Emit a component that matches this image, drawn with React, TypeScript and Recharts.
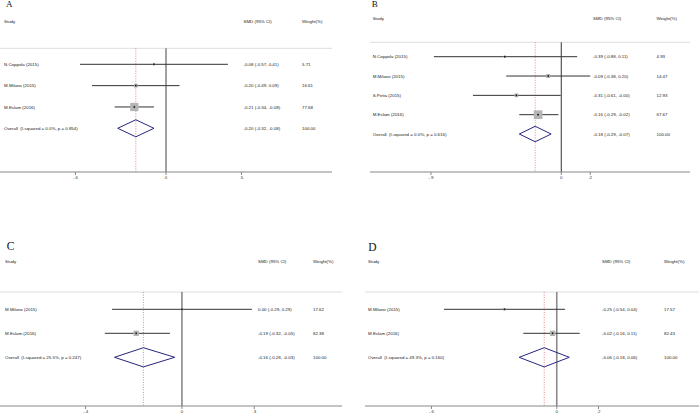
import React from 'react';
import { ScatterChart, Scatter, XAxis, YAxis, ReferenceLine, ErrorBar } from 'recharts';

// ---------- Panel A ----------
const A_STUDIES = ['N.Coppola (2015)', 'M.Milano (2015)', 'M.Eslam (2016)'];
const A_SMD = [-0.08, -0.2, -0.21];
const A_LO = [-0.57, -0.49, -0.34];
const A_HI = [0.41, 0.09, -0.08];
const A_WEIGHT = [5.71, 16.61, 77.68];
const A_OVERALL = [-0.2, -0.32, -0.08];
const A_HET = 'I-squared = 0.0%, p = 0.854';
const A_TICKS = [-0.6, 0, 0.5];
const A_TICK_LABELS = ['-.6', '0', '.5'];

// ---------- Panel B ----------
const B_STUDIES = ['N.Coppola (2015)', 'M.Milano (2015)', 'S.Petta (2015)', 'M.Eslam (2016)'];
const B_SMD = [-0.39, -0.09, -0.31, -0.16];
const B_LO = [-0.88, -0.38, -0.61, -0.29];
const B_HI = [0.11, 0.2, -0.004, -0.02];
const B_WEIGHT = [4.93, 14.47, 12.93, 67.67];
const B_OVERALL = [-0.18, -0.29, -0.07];
const B_HET = 'I-squared = 0.0%, p = 0.616';
const B_TICKS = [-0.9, 0, 0.2];
const B_TICK_LABELS = ['-.9', '0', '.2'];

// ---------- Panel C ----------
const C_STUDIES = ['M.Milano (2015)', 'M.Eslam (2016)'];
const C_SMD = [0.0, -0.19];
const C_LO = [-0.29, -0.32];
const C_HI = [0.29, -0.05];
const C_WEIGHT = [17.62, 82.38];
const C_OVERALL = [-0.16, -0.28, -0.03];
const C_HET = 'I-squared = 25.5%, p = 0.247';
const C_TICKS = [-0.4, 0, 0.3];
const C_TICK_LABELS = ['-.4', '0', '.3'];

// ---------- Panel D ----------
const D_STUDIES = ['M.Milano (2015)', 'M.Eslam (2016)'];
const D_SMD = [-0.25, -0.02];
const D_LO = [-0.54, -0.16];
const D_HI = [0.04, 0.11];
const D_WEIGHT = [17.57, 82.43];
const D_OVERALL = [-0.06, -0.18, 0.06];
const D_HET = 'I-squared = 49.3%, p = 0.160';
const D_TICKS = [-0.6, 0, 0.2];
const D_TICK_LABELS = ['-.6', '0', '.2'];

const SANS = '"Liberation Sans", Arial, sans-serif';
const SERIF = '"Liberation Serif", "Times New Roman", serif';
const FS = 4.4;

const f2 = (v: number) => v.toFixed(2);

type PanelData = {
  studies: string[]; smd: number[]; lo: number[]; hi: number[]; weight: number[];
  overall: number[]; het: string; ticks: number[]; tickLabels: string[];
};

type Layout = {
  letter: string; left: number; top: number;
  margin: { top: number; right: number; bottom: number; left: number };
  xDomain: [number, number]; yDomain: [number, number]; topRow: number;
  cols: number[]; box: number; zeroStroke: string; zeroWidth: number;
  letterX: number; letterY: number; letterSize: number;
};

const DATA: PanelData[] = [
  { studies: A_STUDIES, smd: A_SMD, lo: A_LO, hi: A_HI, weight: A_WEIGHT, overall: A_OVERALL, het: A_HET, ticks: A_TICKS, tickLabels: A_TICK_LABELS },
  { studies: B_STUDIES, smd: B_SMD, lo: B_LO, hi: B_HI, weight: B_WEIGHT, overall: B_OVERALL, het: B_HET, ticks: B_TICKS, tickLabels: B_TICK_LABELS },
  { studies: C_STUDIES, smd: C_SMD, lo: C_LO, hi: C_HI, weight: C_WEIGHT, overall: C_OVERALL, het: C_HET, ticks: C_TICKS, tickLabels: C_TICK_LABELS },
  { studies: D_STUDIES, smd: D_SMD, lo: D_LO, hi: D_HI, weight: D_WEIGHT, overall: D_OVERALL, het: D_HET, ticks: D_TICKS, tickLabels: D_TICK_LABELS },
];

const LAYOUTS: Layout[] = [
  { letter: 'A', left: 0, top: 0, margin: { top: 10, right: 18, bottom: 26, left: 0 }, xDomain: [-1.1, 1.1], yDomain: [-1.546, 6.049], topRow: 0.25, cols: [4, 243.5, 302], box: 0.94, zeroStroke: '#8a8a8a', zeroWidth: 1.6, letterX: 6, letterY: 8.5, letterSize: 9 },
  { letter: 'B', left: 350, top: 0, margin: { top: 8, right: 10, bottom: 26, left: 20 }, xDomain: [-1.321, 0.889], yDomain: [-1.519, 6.965], topRow: 0.255, cols: [22.7, 243, 306.5], box: 1.05, zeroStroke: '#333', zeroWidth: 1, letterX: 21.7, letterY: 8, letterSize: 9 },
  { letter: 'C', left: 0, top: 210, margin: { top: 40, right: 8, bottom: 2, left: 0 }, xDomain: [-0.755, 0.664], yDomain: [-1.471, 5.029], topRow: 0.279, cols: [5, 258, 313], box: 0.59, zeroStroke: '#444', zeroWidth: 1, letterX: 6.7, letterY: 41.7, letterSize: 11.5 },
  { letter: 'D', left: 350, top: 210, margin: { top: 40, right: 1, bottom: 2, left: 15 }, xDomain: [-0.918, 0.681], yDomain: [-1.471, 5.029], topRow: 0.279, cols: [18, 252, 314], box: 0.59, zeroStroke: '#8a8a8a', zeroWidth: 1.6, letterX: 18.3, letterY: 42, letterSize: 11.5 },
];

const DIAMOND_HALF = 0.4; // half height of the pooled diamond, in row units

const SquareShape = (props: any) => {
  const { cx, cy, payload } = props;
  const s = payload.box;
  return (
    <g>
      <rect x={cx - s / 2} y={cy - s / 2} width={s} height={s} fill="#b4b4b4" />
      <rect x={cx - 0.8} y={cy - 0.8} width={1.6} height={1.6} fill="#111" />
    </g>
  );
};

const makeTextShape = (cols: number[]) => (props: any) => {
  const { cy, payload } = props;
  const common = { y: cy, dy: '0.35em', fontSize: FS, fill: '#222', fontFamily: SANS, style: { whiteSpace: 'pre' as const } };
  return (
    <g>
      <text x={cols[0]} {...common}>{payload.name}</text>
      <text x={cols[1]} {...common}>{payload.smdText}</text>
      <text x={cols[2]} {...common}>{payload.wtText}</text>
    </g>
  );
};

const EmptyShape = () => <g />;

function Panel({ d, l }: { d: PanelData; l: Layout }) {
  const n = d.studies.length;
  const studyRows = d.studies.map((name, i) => ({
    x: d.smd[i],
    y: i + 1,
    err: [d.smd[i] - d.lo[i], d.hi[i] - d.smd[i]],
    box: l.box * Math.sqrt(d.weight[i]),
  }));
  const overallRow = n + 1;
  const [oEst, oLo, oHi] = d.overall;
  const diamond = [
    { x: oLo, y: overallRow },
    { x: oEst, y: overallRow - DIAMOND_HALF },
    { x: oHi, y: overallRow },
    { x: oEst, y: overallRow + DIAMOND_HALF },
    { x: oLo, y: overallRow },
  ];
  const textRows = [
    { x: 0, y: -1, name: 'Study', smdText: 'SMD (95% CI)', wtText: 'Weight(%)' },
    ...d.studies.map((name, i) => ({
      x: d.smd[i], y: i + 1, name,
      smdText: `${f2(d.smd[i])} (${f2(d.lo[i])}, ${f2(d.hi[i])})`,
      wtText: f2(d.weight[i]),
    })),
    {
      x: oEst, y: overallRow, name: `Overall  (${d.het})`,
      smdText: `${f2(oEst)} (${f2(oLo)}, ${f2(oHi)})`,
      wtText: f2(d.weight.reduce((a, b) => a + b, 0)),
    },
  ];
  const bottomRow = l.yDomain[1];
  const labelFor = (v: number) => {
    const idx = d.ticks.indexOf(v);
    return idx >= 0 ? d.tickLabels[idx] : String(v);
  };
  return (
    <div style={{ position: 'absolute', left: l.left, top: l.top, width: 350, height: 210 }}>
      <ScatterChart width={350} height={210} margin={l.margin}>
        <XAxis
          type="number"
          dataKey="x"
          domain={l.xDomain}
          allowDataOverflow
          ticks={d.ticks}
          interval={0}
          tickFormatter={labelFor}
          height={12}
          tickSize={3}
          tickMargin={1}
          stroke="#888"
          tick={{ fontSize: FS, fill: '#333', fontFamily: SANS }}
        />
        <YAxis type="number" dataKey="y" domain={l.yDomain} allowDataOverflow reversed hide />
        <ReferenceLine y={l.topRow} stroke="#dedede" strokeWidth={1} />
        <ReferenceLine
          segment={[{ x: 0, y: l.topRow }, { x: 0, y: bottomRow }]}
          stroke={l.zeroStroke}
          strokeWidth={l.zeroWidth}
        />
        <ReferenceLine
          segment={[{ x: oEst, y: l.topRow }, { x: oEst, y: bottomRow }]}
          stroke="#e06a6a"
          strokeWidth={0.8}
          strokeDasharray="1 1.5"
        />
        <Scatter data={studyRows} shape={SquareShape} isAnimationActive={false}>
          <ErrorBar dataKey="err" direction="x" width={0} stroke="#333" strokeWidth={1} isAnimationActive={false} />
        </Scatter>
        <Scatter
          data={diamond}
          line={{ stroke: '#26267e', strokeWidth: 1 }}
          lineType="joint"
          shape={EmptyShape}
          isAnimationActive={false}
        />
        <Scatter data={textRows} shape={makeTextShape(l.cols)} isAnimationActive={false} />
      </ScatterChart>
      <div
        style={{
          position: 'absolute',
          left: l.letterX,
          top: l.letterY - l.letterSize * 0.89,
          fontFamily: SERIF,
          fontSize: l.letterSize,
          lineHeight: 1,
          color: '#111',
        }}
      >
        {l.letter}
      </div>
    </div>
  );
}

export default function App() {
  return (
    <div style={{ position: 'absolute', left: 0, top: 0, width: 700, height: 420, background: '#fff', overflow: 'hidden' }}>
      {DATA.map((d, i) => (
        <Panel key={LAYOUTS[i].letter} d={d} l={LAYOUTS[i]} />
      ))}
    </div>
  );
}
